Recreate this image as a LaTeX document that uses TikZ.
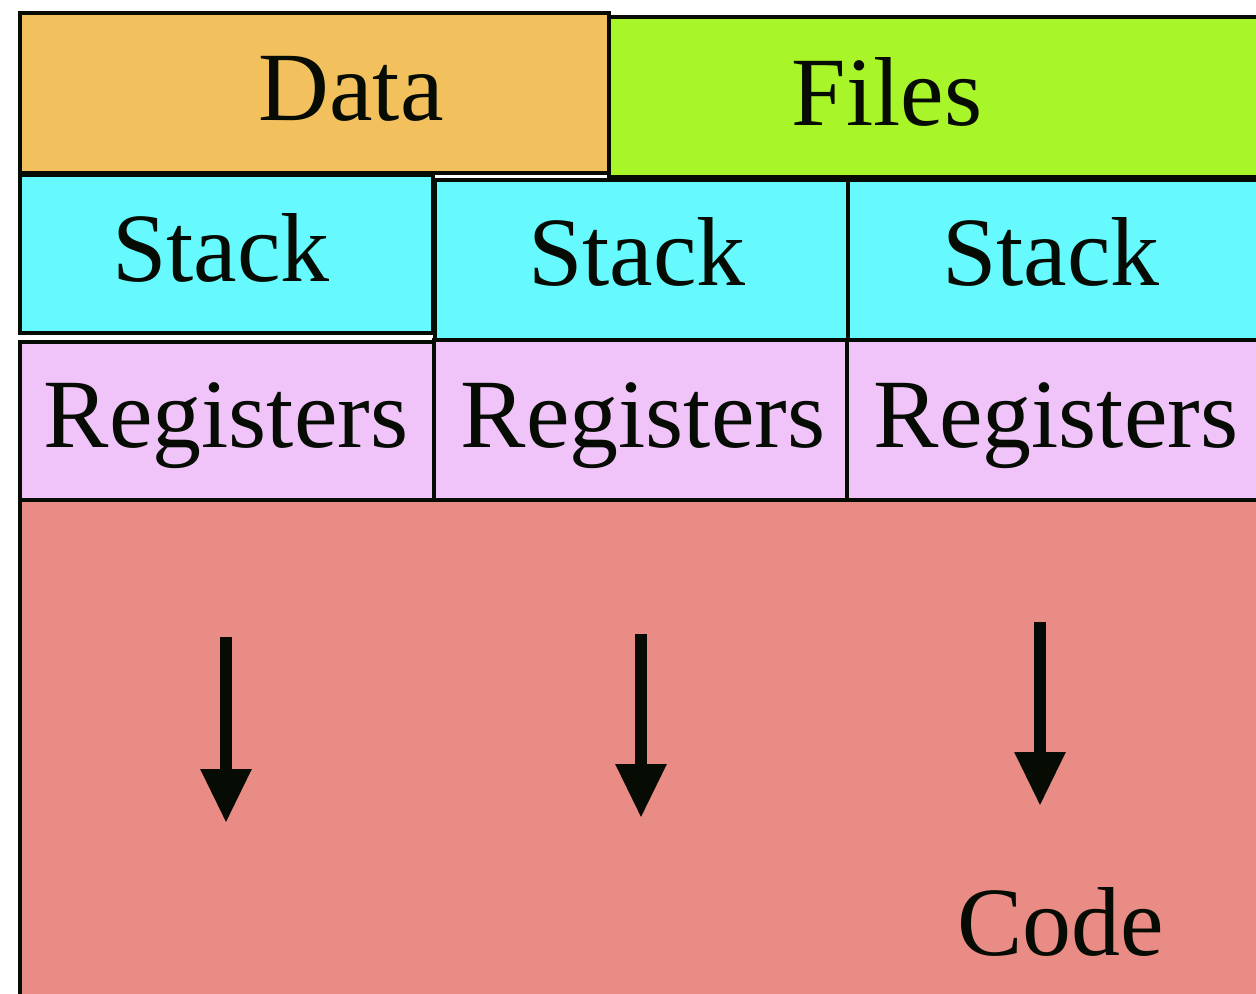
\documentclass[tikz,border=0pt]{standalone}
\usepackage{fontspec}
\setmainfont{Liberation Serif}
\usetikzlibrary{arrows.meta}
\definecolor{dataC}{RGB}{242,192,92}
\definecolor{filesC}{RGB}{168,246,42}
\definecolor{stackC}{RGB}{102,249,253}
\definecolor{regC}{RGB}{240,196,249}
\definecolor{codeC}{RGB}{234,140,134}
\definecolor{inkC}{RGB}{6,12,4}
\tikzset{
  cell/.style={draw=inkC, line width=2.2pt},
  lbl/.style={anchor=base, inner sep=0pt, text=inkC, font=\fontsize{49}{52}\selectfont},
  flow/.style={draw=inkC, line width=6pt, -{Triangle[width=24pt,length=27pt]}}
}
\begin{document}
\begin{tikzpicture}[x=0.5pt,y=-0.5pt]
  \useasboundingbox (0,0) rectangle (1256,993);
  \clip (0,0) rectangle (1256,993);

  % code segment
  \path[cell, fill=codeC] (20,500) rectangle (1275,1010);

  % per-thread registers
  \path[cell, fill=regC] (20,342) rectangle (434,500);
  \path[cell, fill=regC] (434,340) rectangle (847,500);
  \path[cell, fill=regC] (847,340) rectangle (1275,500);

  % per-thread stacks
  \path[cell, fill=stackC] (20,175) rectangle (433,333);
  \path[cell, fill=stackC] (435,180) rectangle (848,340);
  \path[cell, fill=stackC] (848,180) rectangle (1275,340);

  % shared data and files
  \path[cell, fill=dataC] (20,13) rectangle (609,173);
  \path[cell, fill=filesC] (609,17) rectangle (1275,177);

  % labels
  \node[lbl] (data)  at (351,120) {Data};
  \node[lbl] (files) at (887,125) {Files};
  \node[lbl] (st1) at (221,281) {Stack};
  \node[lbl] (st2) at (637,285) {Stack};
  \node[lbl] (st3) at (1051,285) {Stack};
  \node[lbl] (rg1) at (226,447) {Registers};
  \node[lbl] (rg2) at (643,447) {Registers};
  \node[lbl] (rg3) at (1056,447) {Registers};
  \node[lbl] (code) at (1061,955) {Code};

  % threads of execution
  \coordinate (t1a) at (226,637);  \coordinate (t1b) at (226,823);
  \coordinate (t2a) at (641,634);  \coordinate (t2b) at (641,818);
  \coordinate (t3a) at (1040,622); \coordinate (t3b) at (1040,806);
  \draw[flow] (t1a) -- (t1b);
  \draw[flow] (t2a) -- (t2b);
  \draw[flow] (t3a) -- (t3b);
\end{tikzpicture}
\end{document}
